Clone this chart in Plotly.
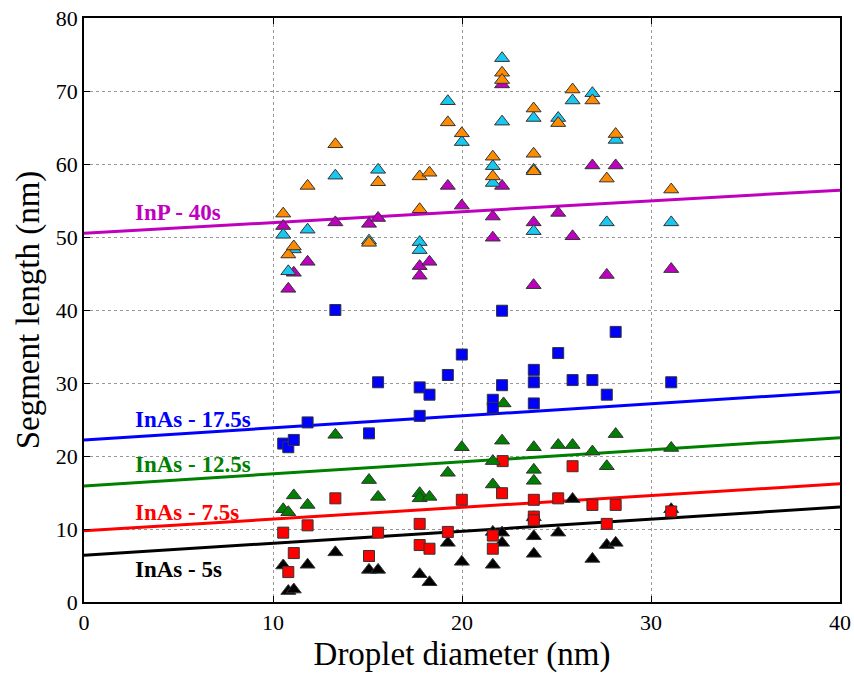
import plotly.graph_objects as go

# ---- data ----
orange_x = [10.54, 10.81, 11.1, 11.83, 13.3, 15.08, 15.56, 17.76, 17.76, 18.28, 19.25, 19.99, 21.63, 21.63,
            22.12, 22.12, 23.79, 23.79, 23.79, 25.09, 25.85, 26.9, 27.66, 28.13, 31.07]
orange_y = [53.2, 47.6, 48.7, 57.0, 62.7, 49.2, 57.5, 58.3, 53.8, 58.8, 65.7, 64.2, 61.0, 58.3,
            72.5, 71.5, 67.6, 61.4, 59.0, 65.6, 70.2, 68.7, 58.0, 64.1, 56.5]

cyan_x = [10.54, 10.81, 11.1, 11.83, 13.3, 15.08, 15.56, 17.76, 17.76, 19.25, 19.99, 21.63, 21.63,
          22.12, 22.12, 23.79, 23.79, 23.79, 25.09, 25.85, 26.9, 27.66, 28.13, 31.07]
cyan_y = [50.3, 45.3, 48.3, 51.0, 58.4, 49.5, 59.2, 49.3, 48.2, 68.6, 63.0, 59.7, 57.4,
          74.5, 65.8, 66.3, 59.2, 50.8, 66.3, 68.7, 69.7, 52.0, 63.3, 52.0]

magenta_x = [10.54, 10.81, 11.1, 11.83, 13.3, 15.08, 15.56, 17.76, 17.76, 18.28, 19.25, 19.99, 21.63, 21.63,
             22.12, 22.12, 23.79, 23.79, 25.09, 25.85, 26.9, 27.66, 28.13, 31.07]
magenta_y = [51.5, 42.9, 45.1, 46.6, 52.0, 51.8, 52.6, 46.0, 44.7, 46.6, 57.0, 54.3, 52.8, 49.9,
             70.9, 57.0, 52.0, 43.4, 53.3, 50.1, 59.8, 44.8, 59.8, 45.6]

blue_x = [10.54, 10.81, 11.1, 11.83, 13.3, 15.08, 15.56, 17.76, 17.76, 18.28, 19.25, 19.99, 21.63, 21.63,
          22.12, 22.12, 23.8, 23.8, 23.8, 25.09, 25.85, 26.9, 27.66, 28.13, 31.07]
blue_y = [21.7, 21.2, 22.2, 24.6, 40.0, 23.1, 30.1, 29.4, 25.5, 28.4, 31.1, 33.9, 27.7, 26.6,
          39.9, 29.7, 31.8, 30.1, 27.2, 34.1, 30.4, 30.4, 28.4, 37.0, 30.1]

green_x = [10.54, 10.81, 11.1, 11.83, 13.3, 15.08, 15.56, 17.76, 17.76, 18.28, 19.25, 19.99, 21.63, 21.63,
           22.2, 22.12, 23.8, 23.8, 23.8, 25.09, 25.85, 26.9, 27.66, 28.13, 31.07]
green_y = [12.7, 12.3, 14.6, 13.3, 22.9, 16.7, 14.4, 14.9, 14.2, 14.4, 17.7, 21.2, 19.3, 16.1,
           27.2, 22.1, 21.2, 18.1, 16.6, 21.5, 21.5, 20.6, 18.6, 23.0, 21.1]

red_x = [10.54, 10.81, 11.1, 11.83, 13.3, 15.08, 15.56, 17.76, 17.76, 18.28, 19.25, 19.99, 21.63, 21.63,
         22.15, 22.12, 23.8, 23.8, 23.8, 25.09, 25.85, 26.9, 27.66, 28.13, 31.07]
red_y = [9.5, 4.1, 6.7, 10.5, 14.2, 6.3, 9.5, 10.7, 7.8, 7.3, 9.6, 14.0, 9.1, 7.3,
         19.3, 14.9, 14.0, 11.7, 11.2, 14.2, 18.6, 13.3, 10.7, 13.3, 12.4]

black_x = [10.54, 10.81, 11.1, 11.83, 13.3, 15.08, 15.56, 17.76, 18.28, 19.25, 19.99, 21.63, 21.63,
           22.12, 22.12, 23.8, 23.8, 23.8, 25.09, 25.85, 26.9, 27.66, 28.13, 31.07]
black_y = [5.0, 1.5, 1.7, 5.1, 6.8, 4.4, 4.4, 3.8, 2.7, 8.1, 5.5, 9.6, 5.1,
           9.5, 8.1, 11.6, 9.0, 6.6, 9.5, 14.1, 5.9, 7.8, 8.1, 12.7]

fit_labels = ["InP - 40s", "InAs - 17.5s", "InAs - 12.5s", "InAs - 7.5s", "InAs - 5s"]
fit_intercepts = [50.5, 22.2, 15.9, 9.75, 6.4]
fit_slopes = [0.148, 0.165, 0.165, 0.161, 0.165]
fit_label_y = [53.3, 25.0, 18.9, 12.3, 4.5]
fit_colors = ["#bf00bf", "#0000ff", "#008000", "#ff0000", "#000000"]

x_range = [0, 40]
y_range = [0, 80]

SERIF = "Liberation Serif, Times New Roman, DejaVu Serif, serif"

fig = go.Figure()

# fit lines
for lab, b, m, c in zip(fit_labels, fit_intercepts, fit_slopes, fit_colors):
    fig.add_trace(go.Scatter(x=x_range, y=[b + m * x for x in x_range], mode="lines",
                             line=dict(color=c, width=3), showlegend=False, hoverinfo="skip"))

edge = dict(color="#333333", width=1)
tri = 13
sq = 11
series = [
    (black_x, black_y, "triangle-up", "#000000", tri),
    (red_x, red_y, "square", "#ff0000", sq),
    (green_x, green_y, "triangle-up", "#008000", tri),
    (blue_x, blue_y, "square", "#0000ff", sq),
    (magenta_x, magenta_y, "triangle-up", "#bf00bf", tri),
    (cyan_x, cyan_y, "triangle-up", "#17c8f0", tri),
    (orange_x, orange_y, "triangle-up", "#ff8c00", tri),
]
for xs, ys, sym, col, sz in series:
    fig.add_trace(go.Scatter(x=xs, y=ys, mode="markers", showlegend=False,
                             marker=dict(symbol=sym, color=col, size=sz, line=edge)))

for lab, ly, c in zip(fit_labels, fit_label_y, fit_colors):
    fig.add_annotation(x=2.6, y=ly, text="<b>" + lab + "</b>", showarrow=False,
                       xanchor="left", yanchor="middle",
                       font=dict(family=SERIF, size=23, color=c))

axis_common = dict(showline=True, linecolor="black", linewidth=1.5, mirror="ticks",
                   ticks="inside", ticklen=6, tickcolor="black", tickwidth=1,
                   showgrid=True, gridcolor="#999999", griddash="dot", gridwidth=1,
                   zeroline=False, automargin=False,
                   tickfont=dict(family=SERIF, size=22, color="black"))

fig.update_xaxes(range=x_range, dtick=10, **axis_common,
                 title=dict(text="Droplet diameter (nm)", standoff=8,
                            font=dict(family=SERIF, size=33, color="black")))
fig.update_yaxes(range=y_range, dtick=10, **axis_common,
                 title=dict(text="Segment length (nm)", standoff=6,
                            font=dict(family=SERIF, size=33, color="black")))

fig.update_layout(width=854, height=675, plot_bgcolor="white", paper_bgcolor="white",
                  margin=dict(l=84, r=14, t=18, b=73))

fig.write_html("out.html")
